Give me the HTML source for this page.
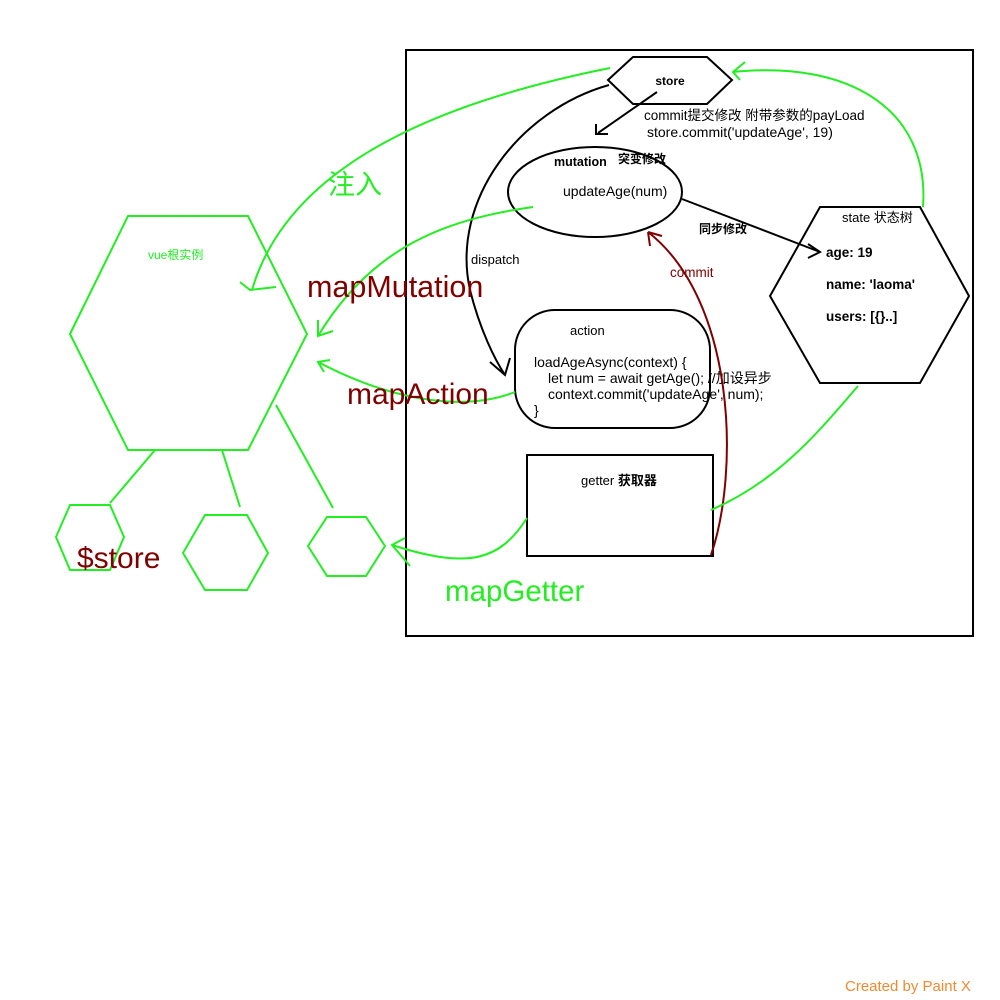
<!DOCTYPE html>
<html><head><meta charset="utf-8"><style>
html,body{margin:0;padding:0;background:#fff;}
svg{display:block;font-family:"Liberation Sans","Noto Sans CJK SC",sans-serif;}
</style></head><body>
<svg width="1000" height="1000" viewBox="0 0 1000 1000">
<rect x="406" y="50" width="567" height="586" fill="none" stroke="#000" stroke-width="2"/>
<g>
<polygon points="608,80 633,57 707,57 732,80 707,104 633,104" fill="none" stroke="#000" stroke-width="2"/>
<text x="670" y="85" font-size="12" font-weight="bold" text-anchor="middle">store</text>
</g>
<text x="644" y="120" font-size="13.5">commit提交修改 附带参数的payLoad</text>
<text x="647" y="137" font-size="14">store.commit('updateAge', 19)</text>
<g>
<ellipse cx="595" cy="192" rx="87" ry="45" fill="none" stroke="#000" stroke-width="2"/>
<text x="554" y="166" font-size="12.5" font-weight="bold">mutation</text>
<text x="618" y="163" font-size="12" font-weight="bold">突变修改</text>
<text x="563" y="196" font-size="14">updateAge(num)</text>
</g>
<g>
<rect x="515" y="310" width="195" height="118" rx="40" fill="none" stroke="#000" stroke-width="2"/>
<text x="570" y="335" font-size="13">action</text>
<text x="534" y="367" font-size="14">loadAgeAsync(context) {</text>
<text x="548" y="383" font-size="14">let num = await getAge();  //加设异步</text>
<text x="548" y="399" font-size="14">context.commit('updateAge', num);</text>
<text x="534" y="415" font-size="14">}</text>
</g>
<g>
<rect x="527" y="455" width="186" height="101" fill="none" stroke="#000" stroke-width="2"/>
<text x="581" y="485" font-size="13">getter <tspan font-weight="bold">获取器</tspan></text>
</g>
<g>
<polygon points="770,296 820,207 920,207 969,296 920,383 820,383" fill="none" stroke="#000" stroke-width="2"/>
<text x="842" y="222" font-size="13">state 状态树</text>
<text x="826" y="257" font-size="13.5" font-weight="bold">age: 19</text>
<text x="826" y="289" font-size="13.5" font-weight="bold">name: 'laoma'</text>
<text x="826" y="321" font-size="13.5" font-weight="bold">users: [{}..]</text>
</g>
<g fill="none" stroke="#000" stroke-width="2">
<path d="M657,92 L598,133"/><path d="M596,124 L596,134 L608,134"/>
<path d="M682,199 L820,252"/><path d="M808,244 L820,252 L808,258"/>
<path d="M609,85 C520,110 450,200 470,290 C480,330 495,360 505,375"/>
<path d="M490,362 L505,375 L510,358"/>
</g>
<text x="699" y="233" font-size="12" font-weight="bold">同步修改</text>
<text x="471" y="264" font-size="13">dispatch</text>
<path d="M711,555 C740,470 735,300 648,232 M648,232 L650,246 M648,232 L662,236" fill="none" stroke="#800000" stroke-width="2"/>
<text x="670" y="277" font-size="13.5" fill="#800000">commit</text>
<g fill="none" stroke="#22ee22" stroke-width="2">
<polygon points="70,334 128,216 248,216 307,334 248,450 128,450"/>
<polygon points="56,537 70,505 110,505 124,537 110,570 70,570"/>
<polygon points="183,553 205,515 247,515 268,553 247,590 205,590"/>
<polygon points="308,546 327,517 366,517 385,546 366,576 327,576"/>
<path d="M155,450 L110,503 M222,450 L240,507 M276,405 L333,508"/>
<path d="M610,68 C450,100 290,160 252,290 M240,282 L250,290 L276,287"/>
<path d="M533,207 C440,220 370,250 318,336 M318,320 L318,336 L333,331"/>
<path d="M515,392 C470,410 400,405 318,362 M330,360 L318,362 L324,372"/>
<path d="M527,518 C500,560 470,570 392,545 M405,538 L392,545 L410,566"/>
<path d="M858,386 C820,430 780,480 711,510"/>
<path d="M923,207 C930,110 850,60 733,72 M745,62 L733,72 L740,80"/>
</g>
<text x="148" y="259" font-size="12" fill="#22ee22">vue根实例</text>
<text x="328" y="194" font-size="27" fill="#22ee22">注入</text>
<text x="307" y="297" font-size="30.5" fill="#800000">mapMutation</text>
<text x="347" y="404" font-size="30" fill="#800000">mapAction</text>
<text x="77" y="568" font-size="30" fill="#800000">$store</text>
<text x="445" y="601" font-size="29.5" fill="#22ee22">mapGetter</text>
<text x="845" y="991" font-size="15" fill="#f08a30">Created by Paint X</text>
</svg>
</body></html>
